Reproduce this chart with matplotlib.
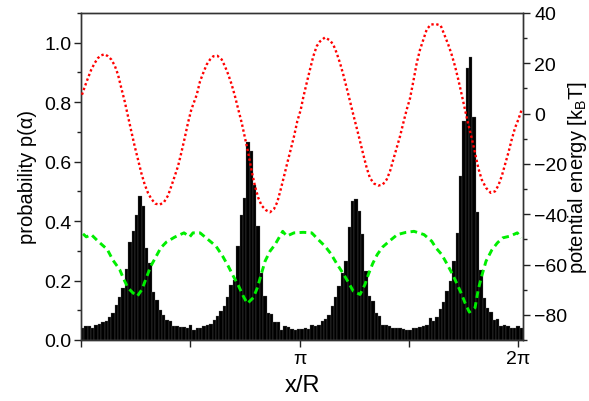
import numpy as np
import matplotlib
matplotlib.use("Agg")
import matplotlib.pyplot as plt
from matplotlib.ticker import MultipleLocator, FixedLocator

plt.rcParams['font.family'] = ['Liberation Sans', 'DejaVu Sans']
plt.rcParams['mathtext.fontset'] = 'custom'
plt.rcParams['mathtext.rm'] = 'Liberation Sans'
plt.rcParams['mathtext.it'] = 'Liberation Sans:italic'

# ---------------- data ----------------
x_max = 6.355  # right end of the x axis (slightly beyond 2*pi)

hist_prob = [
    0.040, 0.046, 0.048, 0.040, 0.049, 0.055, 0.059, 0.065, 0.077, 0.091, 0.119, 0.145, 0.175,
    0.239, 0.329, 0.366, 0.419, 0.484, 0.452, 0.310, 0.259, 0.160, 0.136, 0.102, 0.085, 0.066,
    0.063, 0.048, 0.046, 0.045, 0.043, 0.039, 0.052,
    0.035, 0.040, 0.040, 0.048, 0.049, 0.055, 0.066, 0.080, 0.097, 0.113, 0.145, 0.186, 0.203,
    0.315, 0.422, 0.478, 0.667, 0.635, 0.523, 0.383, 0.226, 0.147, 0.091, 0.088, 0.059, 0.059,
    0.035, 0.048, 0.044, 0.037, 0.035, 0.037,
    0.037, 0.040, 0.037, 0.049, 0.046, 0.052, 0.063, 0.071, 0.085, 0.113, 0.145, 0.181, 0.226,
    0.265, 0.379, 0.467, 0.475, 0.433, 0.355, 0.231, 0.147, 0.130, 0.091, 0.080, 0.052, 0.052,
    0.046, 0.040, 0.040, 0.040, 0.037, 0.035,
    0.035, 0.040, 0.040, 0.043, 0.048, 0.049, 0.074, 0.063, 0.077, 0.104, 0.129, 0.164, 0.200,
    0.267, 0.360, 0.551, 0.736, 0.916, 0.952, 0.750, 0.430, 0.235, 0.141, 0.108, 0.094, 0.068,
    0.071, 0.046, 0.052, 0.046, 0.040, 0.040, 0.046, 0.040,
]

red_x = [0.014, 0.053, 0.101, 0.148, 0.197, 0.244, 0.292, 0.341, 0.388, 0.436, 0.485, 0.532,
         0.579, 0.628, 0.676, 0.723, 0.772, 0.820, 0.867, 0.916, 0.963, 1.011, 1.068, 1.132,
         1.193, 1.251, 1.298, 1.347, 1.395, 1.442, 1.491, 1.538, 1.586, 1.664, 1.711, 1.758,
         1.807, 1.855, 1.902, 1.960, 2.023, 2.070, 2.118, 2.167, 2.214, 2.262, 2.311, 2.358,
         2.405, 2.454, 2.502, 2.549, 2.598, 2.660, 2.717, 2.775, 2.822, 2.871, 2.919, 2.966,
         3.015, 3.063, 3.110, 3.159, 3.196, 3.245, 3.292, 3.340, 3.389, 3.436, 3.508, 3.580,
         3.628, 3.676, 3.724, 3.771, 3.820, 3.868, 3.915, 3.964, 4.012, 4.059, 4.108, 4.155,
         4.213, 4.275, 4.338, 4.395, 4.443, 4.490, 4.539, 4.587, 4.634, 4.683, 4.730, 4.778,
         4.827, 4.874, 4.922, 4.970, 5.028, 5.104, 5.172, 5.234, 5.281, 5.330, 5.378, 5.425,
         5.474, 5.521, 5.569, 5.618, 5.665, 5.712, 5.761, 5.823, 5.891, 5.953, 6.000, 6.049,
         6.096, 6.144, 6.193, 6.240, 6.287, 6.336]
red_u = [7.5, 10.6, 14.2, 17.5, 20.1, 22.1, 23.2, 23.6, 22.8, 21.5, 19.1, 15.5,
         10.2, 4.9, -1.1, -7.0, -13.0, -18.3, -23.6, -28.2, -31.5, -33.9, -35.8, -36.2,
         -35.2, -32.6, -28.9, -24.9, -20.9, -15.6, -9.7, -3.7, 1.6, 7.5, 12.8, 16.2,
         19.5, 21.5, 22.8, 23.0, 21.5, 18.8, 15.5, 11.5, 6.9, 1.6, -3.7, -9.7,
         -15.6, -22.9, -28.9, -33.5, -36.6, -38.4, -39.2, -37.9, -35.2, -30.2, -24.9, -19.6,
         -14.3, -9.0, -3.0, 1.5, 6.5, 12.2, 17.5, 22.8, 26.8, 28.7, 30.3, 29.1,
         27.4, 24.1, 20.1, 15.5, 10.2, 4.9, -0.4, -5.7, -11.0, -16.3, -21.6, -25.6,
         -27.8, -28.6, -28.2, -26.2, -22.9, -18.3, -13.6, -9.0, -3.7, 1.6, 6.0, 12.8,
         20.1, 25.4, 29.4, 33.4, 35.4, 35.6, 35.0, 30.7, 27.4, 23.4, 18.8, 13.5,
         7.5, 1.6, -4.4, -9.7, -15.6, -21.6, -26.2, -29.5, -31.5, -30.9, -28.6, -24.9,
         -20.3, -15.6, -10.3, -5.7, -2.4, 1.6]

green_x = [0.029, 0.076, 0.148, 0.244, 0.378, 0.460, 0.556, 0.618, 0.676, 0.748, 0.809, 0.877,
           0.939, 1.002, 1.068, 1.146, 1.226, 1.347, 1.481, 1.563, 1.610, 1.711, 1.816, 1.941,
           2.037, 2.118, 2.190, 2.262, 2.334, 2.391, 2.477, 2.535, 2.584, 2.646, 2.717, 2.789,
           2.900, 2.958, 3.063, 3.196, 3.317, 3.412, 3.508, 3.590, 3.676, 3.763, 3.843, 3.915,
           4.012, 4.083, 4.131, 4.194, 4.260, 4.338, 4.433, 4.548, 4.673, 4.788, 4.932, 5.042,
           5.104, 5.186, 5.267, 5.344, 5.410, 5.474, 5.521, 5.583, 5.665, 5.712, 5.761, 5.823,
           5.905, 5.986, 6.063, 6.168, 6.273, 6.326]
green_u = [-47.8, -49.0, -48.1, -50.7, -54.0, -58.3, -62.0, -66.0, -69.3, -71.3, -72.6, -69.9,
           -65.3, -60.7, -57.4, -53.4, -51.1, -49.1, -47.4, -49.0, -47.4, -47.4, -49.8, -52.7,
           -56.7, -60.7, -64.6, -68.3, -72.6, -75.5, -73.2, -69.3, -64.6, -58.7, -54.7, -52.1,
           -46.8, -48.7, -47.4, -47.2, -47.4, -50.1, -52.7, -55.6, -59.6, -63.3, -67.0, -70.6,
           -71.9, -67.9, -64.0, -59.6, -56.0, -53.0, -50.7, -48.1, -47.2, -46.8, -48.1, -50.7,
           -53.4, -56.0, -60.0, -64.0, -67.9, -71.9, -75.2, -78.9, -77.2, -69.9, -64.6, -58.7,
           -54.3, -51.4, -49.4, -48.7, -47.4, -49.5]

x_tick_labels = ['', '', 'π', '', '2π']

# ---------------- figure ----------------
fig = plt.figure(figsize=(5.89, 4.02), dpi=100)
ax = fig.add_axes([81/589, 1-341/402, (523-81)/589, (341-14)/402])

n = len(hist_prob)
edges = np.linspace(0, x_max, n + 1)
ax.bar(edges[:-1], hist_prob, width=x_max / n, align='edge', color='black',
       edgecolor='#707070', linewidth=0.2, zorder=1)

ax.set_xlim(0, x_max)
ax.set_ylim(0, 1.1)
ax.set_yticks([0, 0.2, 0.4, 0.6, 0.8, 1.0])
ax.set_yticklabels(['0.0', '0.2', '0.4', '0.6', '0.8', '1.0'])
ax.yaxis.set_minor_locator(MultipleLocator(0.1))
ax.xaxis.set_major_locator(FixedLocator([0, np.pi/2, np.pi, 3*np.pi/2, 2*np.pi]))
ax.set_xticklabels(x_tick_labels)
ax.tick_params(axis='both', which='major', direction='out', length=5, width=1,
               labelsize=14, colors='#222222')
ax.tick_params(axis='y', which='minor', direction='out', length=3, width=1, colors='#222222')
ax.tick_params(axis='y', labelcolor='black', pad=2)
ax.tick_params(axis='x', labelcolor='black', pad=2)
ax.set_xlabel('x/R', fontsize=17, labelpad=5)
ax.set_ylabel('probability p(α)', fontsize=14.5, labelpad=5)

ax2 = ax.twinx()
ax2.plot(red_x, red_u, color='#ff0000', linestyle=(0, (1, 1.1)), linewidth=1.7, zorder=3)
ax2.plot(green_x, green_u, color='#00ee00', linestyle=(0, (2.3, 1.5)), linewidth=2.1, zorder=3)
ax2.set_ylim(-90, 40)
ax2.set_yticks([-80, -60, -40, -20, 0, 20, 40])
ax2.yaxis.set_minor_locator(MultipleLocator(10))
ax2.tick_params(axis='y', which='major', direction='out', length=5, width=1,
                labelsize=14, colors='#222222', labelcolor='black', pad=3)
ax2.tick_params(axis='y', which='minor', direction='out', length=3, width=1, colors='#222222')
ax2.set_ylabel(r'potential energy [k$_\mathregular{B}$T]', fontsize=14.5)
ax2.yaxis.set_label_coords(1.098, 0.5)

for a in (ax, ax2):
    for s in a.spines.values():
        s.set_linewidth(1.0)
        s.set_color('#333333')

fig.savefig('out.png', dpi=100)
